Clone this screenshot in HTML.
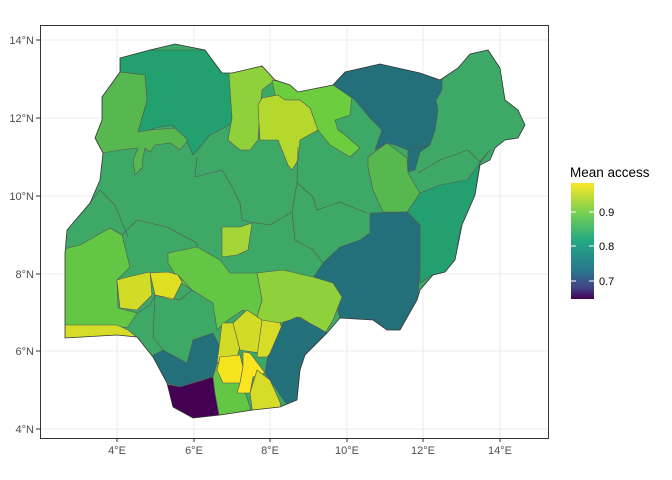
<!DOCTYPE html><html><head><style>body{margin:0;background:#fff}svg{display:block;font-family:"Liberation Sans",sans-serif}</style></head><body>
<svg width="672" height="480" viewBox="0 0 672 480">
<defs>
<clipPath id="c"><path id="ng" d="M120,58 L150,50 L175,44 L205,50 L222,73 L232,73 L262,66 L275,80 L290,85 L298,92 L333,85 L345,72 L380,64 L420,73 L440,80 L458,68 L470,54 L488,50 L500,68 L505,100 L518,110 L525,125 L518,138 L505,140 L495,148 L490,160 L480,165 L475,195 L462,225 L455,260 L445,272 L433,275 L420,290 L417,300 L400,330 L387,330 L373,320 L340,318 L327,333 L305,355 L300,370 L297,400 L280,407 L253,410 L220,415 L193,418 L173,407 L167,383 L153,357 L137,337 L117,335 L65,338 L65,253 L67,230 L90,203 L100,180 L103,153 L95,138 L102,120 L102,97 L120,72 Z"/></clipPath>
<linearGradient id="g" x1="0" y1="0" x2="0" y2="1"><stop offset="0" stop-color="#fde725"/><stop offset="0.25" stop-color="#7ad151"/><stop offset="0.5" stop-color="#22a884"/><stop offset="0.75" stop-color="#2a788e"/><stop offset="0.9" stop-color="#414487"/><stop offset="1" stop-color="#440154"/></linearGradient>
</defs>
<rect x="40" y="25" width="508" height="413" fill="#fff"/>
<g stroke="#ebebeb" stroke-width="1">
<line x1="117" y1="25" x2="117" y2="438"/><line x1="194" y1="25" x2="194" y2="438"/><line x1="270" y1="25" x2="270" y2="438"/><line x1="347" y1="25" x2="347" y2="438"/><line x1="423" y1="25" x2="423" y2="438"/><line x1="500" y1="25" x2="500" y2="438"/>
<line x1="40" y1="40" x2="548" y2="40"/><line x1="40" y1="118" x2="548" y2="118"/><line x1="40" y1="196" x2="548" y2="196"/><line x1="40" y1="274" x2="548" y2="274"/><line x1="40" y1="351" x2="548" y2="351"/><line x1="40" y1="429" x2="548" y2="429"/>
</g>
<use href="#ng" fill="#3ea867"/>
<g clip-path="url(#c)" stroke="#555" stroke-width="0.6" stroke-linejoin="round">
<path fill="#22a06e" d="M110,50 L230,50 L232,118 L235,122 L210,135 L193,155 L185,138 L172,125 L155,128 L150,130 L138,132 L147,100 L145,75 L120,72 Z"/>
<path fill="#56b84f" d="M102,97 L120,72 L145,75 L147,100 L138,132 L150,130 L175,128 L188,140 L180,150 L170,143 L155,145 L150,152 L145,148 L143,158 L142,168 L135,175 L133,160 L138,148 L120,150 L103,153 L95,138 L102,120 Z"/>
<path fill="#8fd13a" d="M228,60 L262,60 L275,80 L262,90 L260,110 L258,140 L250,150 L240,150 L228,140 L232,118 Z"/>
<path fill="#6ccd3f" d="M272,80 L298,85 L333,80 L345,90 L352,95 L350,115 L335,120 L338,130 L345,135 L360,148 L350,157 L330,145 L318,130 L310,108 L300,100 L285,100 L275,95 Z"/>
<path fill="#b5d82e" d="M262,98 L278,95 L285,100 L300,100 L310,108 L318,130 L300,140 L298,160 L292,170 L288,165 L278,140 L260,140 L258,105 Z"/>
<path fill="#23707a" d="M333,85 L345,60 L380,55 L442,60 L442,90 L436,100 L438,110 L435,130 L430,145 L420,152 L415,170 L408,172 L408,150 L395,145 L388,143 L375,150 L382,130 L370,118 L355,100 Z"/>
<path fill="#24a070" d="M490,150 L480,162 L475,195 L460,230 L455,262 L445,272 L432,275 L420,283 L420,240 L420,225 L407,212 L420,193 L440,185 L467,180 Z"/>
<path fill="#57b84f" d="M368,157 L387,143 L407,158 L408,173 L420,193 L407,212 L383,212 L373,190 L368,167 Z"/>
<path fill="#23707a" d="M370,213 L407,212 L420,225 L420,260 L418,300 L400,330 L387,330 L373,320 L340,318 L335,300 L340,295 L333,283 L313,278 L323,263 L340,247 L360,240 L370,233 Z"/>
<path fill="#8fd13a" d="M257,273 L283,270 L313,277 L333,283 L342,297 L333,320 L325,333 L300,317 L280,323 L267,330 L257,317 L262,300 Z"/>
<path fill="#63c645" d="M168,253 L197,247 L220,260 L230,273 L257,273 L262,300 L257,317 L243,310 L228,320 L217,330 L213,303 L192,290 L180,282 L168,263 Z"/>
<path fill="#a3d636" d="M222,227 L240,227 L252,223 L248,250 L237,255 L222,257 Z"/>
<path fill="#63c645" d="M60,250 L80,245 L110,228 L122,235 L130,267 L117,280 L118,308 L137,313 L128,327 L60,333 Z"/>
<path fill="#d6dc28" d="M60,325 L83,325 L117,325 L128,330 L140,340 L60,342 Z"/>
<path fill="#d2dc27" d="M117,280 L128,277 L150,272 L152,295 L137,310 L120,308 Z"/>
<path fill="#e0df22" d="M150,273 L168,272 L178,275 L182,282 L173,300 L155,295 Z"/>
<path fill="#23707a" d="M150,357 L163,350 L187,363 L193,340 L213,333 L220,347 L217,363 L213,377 L200,380 L180,387 L167,383 Z"/>
<path fill="#440154" d="M160,383 L180,387 L213,377 L215,393 L220,420 L193,420 L173,407 Z"/>
<path fill="#63c645" d="M213,377 L217,363 L240,377 L250,407 L250,420 L220,420 L215,393 Z"/>
<path fill="#d2dc27" d="M222,323 L233,323 L240,347 L237,357 L217,363 L220,340 Z"/>
<path fill="#d2dc27" d="M233,323 L247,310 L262,320 L260,353 L240,350 Z"/>
<path fill="#d6dc28" d="M262,320 L280,323 L285,337 L267,357 L257,357 Z"/>
<path fill="#f5e31e" d="M220,357 L240,355 L243,367 L240,383 L223,383 L217,370 Z"/>
<path fill="#fae520" d="M243,352 L250,353 L265,373 L253,377 L250,393 L237,393 L240,383 L243,367 Z"/>
<path fill="#d6dc28" d="M257,370 L270,380 L280,402 L282,415 L253,415 L250,393 Z"/>
<path fill="#23707a" d="M267,360 L283,323 L297,317 L317,327 L327,333 L307,353 L300,370 L298,400 L287,405 L270,380 L265,373 Z"/>
<g fill="none">
<path d="M197,157 L195,177 L222,170 L230,183 L240,203 L242,220 L250,222 L270,225 L292,212"/>
<path d="M298,147 L297,183 L313,197 L317,210 L340,202 L367,213"/>
<path d="M297,183 L292,212 L295,240 L313,250 L323,263"/>
<path d="M90,203 L100,190 L115,205 L128,237"/>
<path d="M110,228 L122,235 L137,220 L167,227 L197,243 L197,247"/>
<path d="M178,275 L192,290 L180,300 L155,295 L153,337 L163,350"/>
<path d="M137,313 L150,305 L155,295"/>
<path d="M418,173 L440,160 L468,150 L480,162"/>
<path d="M408,150 L430,145"/>
</g>
</g>
<use href="#ng" fill="none" stroke="#333" stroke-width="0.8"/>
<rect x="40.5" y="25.5" width="508" height="413" fill="none" stroke="#333" stroke-width="1"/>
<g stroke="#333" stroke-width="1">
<line x1="117" y1="438" x2="117" y2="442"/><line x1="194" y1="438" x2="194" y2="442"/><line x1="270" y1="438" x2="270" y2="442"/><line x1="347" y1="438" x2="347" y2="442"/><line x1="423" y1="438" x2="423" y2="442"/><line x1="500" y1="438" x2="500" y2="442"/>
<line x1="36" y1="40" x2="40" y2="40"/><line x1="36" y1="118" x2="40" y2="118"/><line x1="36" y1="196" x2="40" y2="196"/><line x1="36" y1="274" x2="40" y2="274"/><line x1="36" y1="351" x2="40" y2="351"/><line x1="36" y1="429" x2="40" y2="429"/>
</g>
<g font-size="11" fill="#4d4d4d" text-anchor="middle">
<text x="117" y="454">4°E</text><text x="194" y="454">6°E</text><text x="270" y="454">8°E</text><text x="347" y="454">10°E</text><text x="423" y="454">12°E</text><text x="500" y="454">14°E</text>
</g>
<g font-size="11" fill="#4d4d4d" text-anchor="end">
<text x="34" y="44">14°N</text><text x="34" y="122">12°N</text><text x="34" y="200">10°N</text><text x="34" y="278">8°N</text><text x="34" y="355">6°N</text><text x="34" y="433">4°N</text>
</g>
<text x="570" y="177" font-size="13.5" fill="#000">Mean access</text>
<rect x="571" y="183" width="23" height="116" fill="url(#g)"/>
<g stroke="#fff" stroke-width="1"><line x1="571" y1="212" x2="576" y2="212"/><line x1="589" y1="212" x2="594" y2="212"/><line x1="571" y1="246" x2="576" y2="246"/><line x1="589" y1="246" x2="594" y2="246"/><line x1="571" y1="281" x2="576" y2="281"/><line x1="589" y1="281" x2="594" y2="281"/></g>
<g font-size="11" fill="#000"><text x="599" y="216">0.9</text><text x="599" y="250">0.8</text><text x="599" y="285">0.7</text></g>
</svg>
</body></html>
